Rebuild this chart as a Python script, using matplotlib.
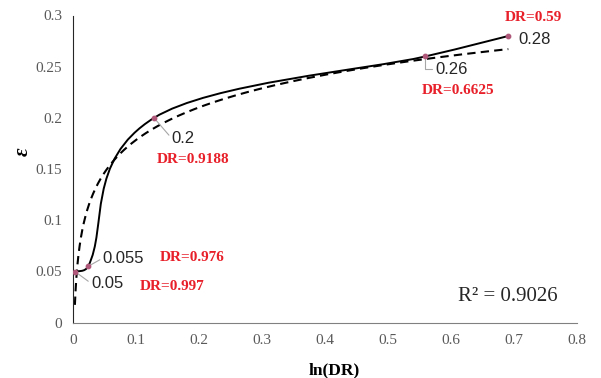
import numpy as np
import matplotlib
matplotlib.use('Agg')
import matplotlib.pyplot as plt
from matplotlib.path import Path
from matplotlib.patches import PathPatch

# 数据点 (ln(DR), ε)
ln_dr = np.array([0.003, 0.024, 0.1286, 0.559, 0.691])
eps = np.array([0.05, 0.055, 0.2, 0.26, 0.28])
val_labels = ['0.05', '0.055', '0.2', '0.26', '0.28']
dr_labels = ['DR=0.997', 'DR=0.976', 'DR=0.9188', 'DR=0.6625', 'DR=0.59']
r2_text = 'R² = 0.9026'

fig, ax = plt.subplots(figsize=(6.01, 3.78), dpi=100)
fig.subplots_adjust(left=73/601, right=577/601, bottom=1-322.7/378, top=1-15.5/378)
ax.set_xlim(0, 0.8)
ax.set_ylim(0, 0.3)

# 平滑曲线 (类似Excel的平滑散点线), 在屏幕坐标中构造贝塞尔控制点
tension = [1/6, 1/4, 1/6, 1/6]   # 每段的张力
pts = ax.transData.transform(np.column_stack([ln_dr, eps]))
n = len(pts)
ext = np.vstack([pts[0], pts, pts[-1]])
verts = [pts[0]]
codes = [Path.MOVETO]
for i in range(n - 1):
    p0, p1, p2, p3 = ext[i], ext[i+1], ext[i+2], ext[i+3]
    half = np.linalg.norm(p2 - p1) / 2
    t0 = (p2 - p0) * tension[i]
    t1 = (p3 - p1) * tension[i]
    if np.linalg.norm(t0) > half:
        t0 = t0 / np.linalg.norm(t0) * half
    if np.linalg.norm(t1) > half:
        t1 = t1 / np.linalg.norm(t1) * half
    verts += [p1 + t0, p2 - t1, p2]
    codes += [Path.CURVE4] * 3
verts = ax.transData.inverted().transform(np.array(verts))
ax.add_patch(PathPatch(Path(verts, codes), facecolor='none', edgecolor='black', lw=1.4, zorder=3))

# 对数趋势线
a, b = np.polyfit(np.log(ln_dr), eps, 1)
xt = np.geomspace(ln_dr.min(), ln_dr.max(), 300)
ax.plot(xt, a*np.log(xt) + b, color='black', lw=1.5, ls=(0, (4, 2.5)), zorder=2)

ax.scatter(ln_dr, eps, s=10, color='#b0587a', zorder=5)

# 数据标签
lab_pos = [(0.0286, 0.0385), (0.047, 0.063), (0.1567, 0.180), (0.5746, 0.2476), (0.707, 0.277)]
lead = ['arc3', 'arc3', 'arc3', 'angle,angleA=0,angleB=90,rad=0', None]
for i in range(n):
    kw = {}
    if lead[i]:
        kw['arrowprops'] = dict(arrowstyle='-', color='#a6a6a6', lw=0.8, shrinkA=0, shrinkB=2,
                                connectionstyle=lead[i], relpos=(0, 0.5))
    ax.annotate(val_labels[i], xy=(ln_dr[i], eps[i]), xytext=lab_pos[i], ha='left', va='center',
                fontsize=12, family='Liberation Sans', color='#262626', annotation_clip=False, **kw)

dr_pos = [(0.1567, 0.0352), (0.190, 0.0635), (0.191, 0.159), (0.6116, 0.2267), (0.7307, 0.2984)]
for s, (px, py) in zip(dr_labels, dr_pos):
    ax.text(px, py, s, ha='center', va='center', fontsize=11, family='Liberation Serif',
            weight='bold', color='#e8202a', clip_on=False)

ax.text(0.690, 0.026, r2_text, ha='center', va='center', fontsize=15, family='Liberation Serif',
        color='#262626')

# 坐标轴样式
for s in ['top', 'right']:
    ax.spines[s].set_visible(False)
ax.spines['left'].set_color('#262626')
ax.spines['bottom'].set_color('#808080')
ax.tick_params(length=0, pad=8, labelsize=11, labelcolor='#595959')
ax.set_xticks(np.arange(0, 0.81, 0.1))
ax.set_yticks(np.arange(0, 0.301, 0.05))
ax.set_xticklabels(['0', '0.1', '0.2', '0.3', '0.4', '0.5', '0.6', '0.7', '0.8'], family='Liberation Serif')
ax.set_yticklabels(['0', '0.05', '0.1', '0.15', '0.2', '0.25', '0.3'], family='Liberation Serif')

ax.set_xlabel('ln(DR)', fontsize=12.5, family='Liberation Serif', weight='bold')
ax.xaxis.set_label_coords(0.518, -0.128)
ax.set_ylabel('ε', fontsize=15, family='Liberation Serif', style='italic', weight='bold')
ax.yaxis.set_label_coords(-0.1, 0.556)
ax.yaxis.label.set_va('center')

fig.savefig('out.png', dpi=100)
